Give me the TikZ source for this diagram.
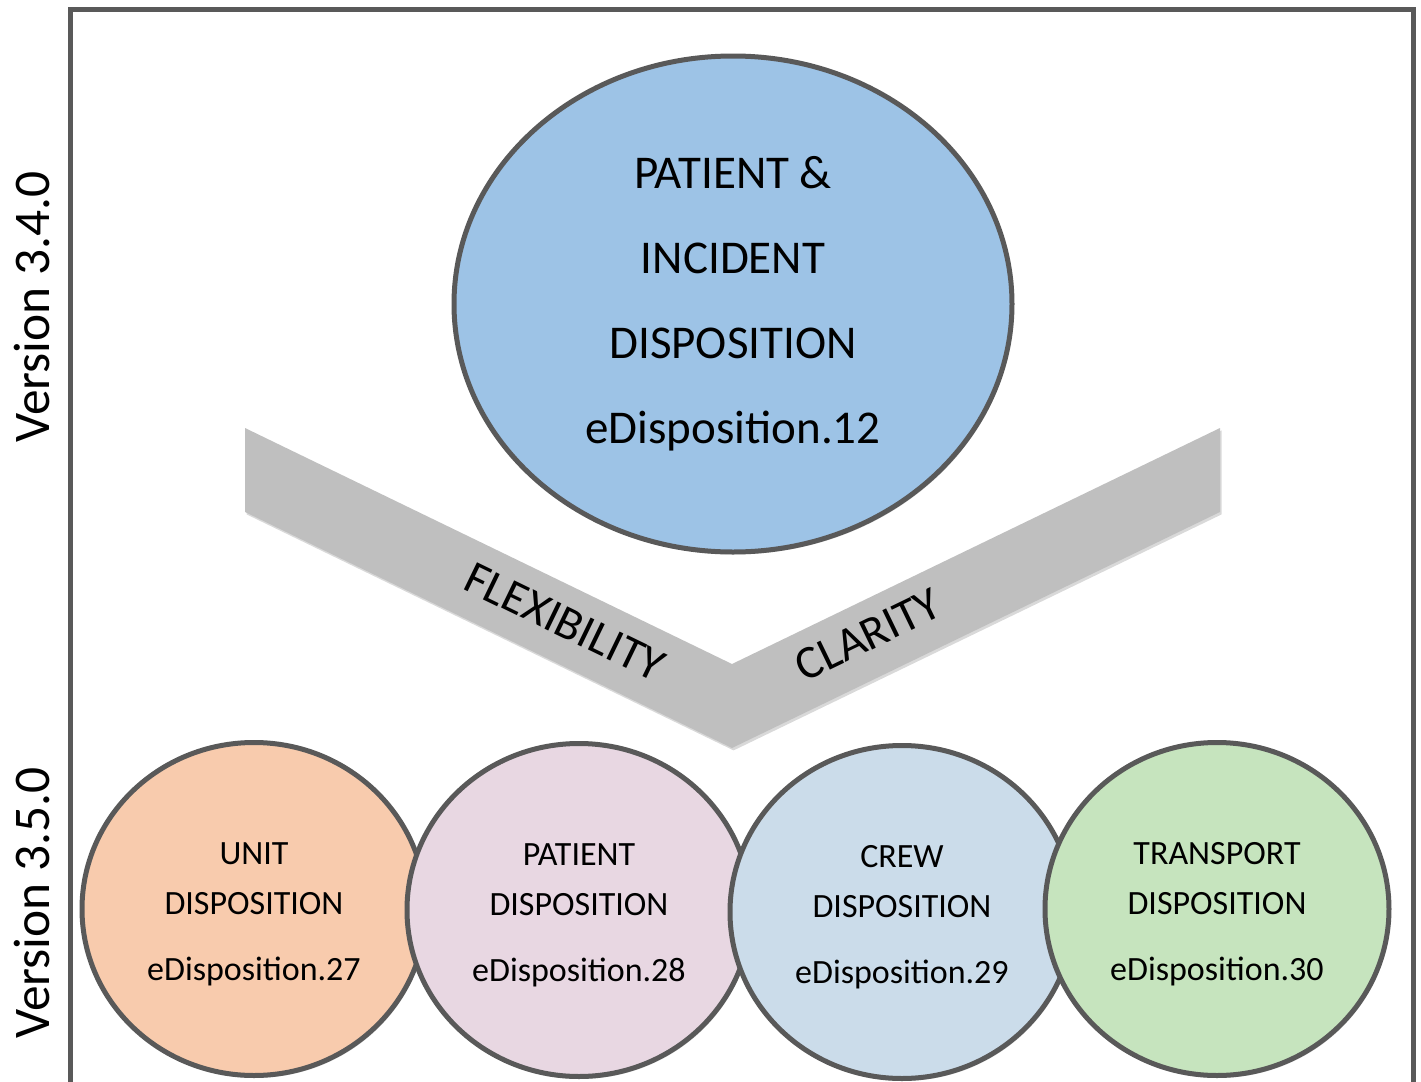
\documentclass[tikz,border=0pt]{standalone}
\usepackage{fontspec}
\setmainfont{Carlito}
\usepackage{tikz}
\usetikzlibrary{shapes.geometric,shadows}

\definecolor{frameGray}{HTML}{595959}
\definecolor{chevGray}{HTML}{BFBFBF}
\definecolor{incBlue}{HTML}{9DC3E6}
\definecolor{unitOrange}{HTML}{F8CBAD}
\definecolor{patPink}{HTML}{E8D7E2}
\definecolor{crewBlue}{HTML}{CBDCEA}
\definecolor{transGreen}{HTML}{C6E4BE}

\begin{document}
\begin{tikzpicture}[x=0.5pt,y=-0.5pt,
	shade/.style={drop shadow={opacity=0.3,shadow xshift=0.8pt,shadow yshift=-1.2pt}},
	disp/.style={ellipse,draw=frameGray,line width=2.5pt,inner sep=0pt,align=center,shade},
	dispsmall/.style={disp,minimum width=172pt,minimum height=166.5pt,font=\fontsize{17}{25}\selectfont},
	version/.style={rotate=90,font=\fontsize{25.7}{30}\selectfont}]
	\useasboundingbox (0,0) rectangle (1421,1082);
	
	%frame
	\draw[frameGray,line width=2.5pt] (70.5,1082) -- (70.5,9.5) -- (1413.5,9.5) -- (1413.5,1082);
	
	\node[version] (v340) at (32,307) {Version 3.4.0};
	\node[version] (v350) at (32,903) {Version 3.5.0};
	
	%chevron
	\coordinate (lt) at (245,428);
	\coordinate (mt) at (732,664);
	\coordinate (rt) at (1220,428);
	\coordinate (rb) at (1220,512);
	\coordinate (mb) at (732,748);
	\coordinate (lb) at (245,512);
	\fill[chevGray,shade] (lt) -- (mt) -- (rt) -- (rb) -- (mb) -- (lb) -- cycle;
	\node[rotate=-25.85,font=\fontsize{23.5}{28}\selectfont] (flex) at (565,622) {FLEXIBILITY};
	\node[rotate=25.85,font=\fontsize{23.5}{28}\selectfont] (clar) at (868,635) {CLARITY};
	
	%version 3.4.0
	\node[disp,fill=incBlue,minimum width=279pt,minimum height=248pt,font=\fontsize{23.5}{42.5}\selectfont] (incident) at (733,304)
		{PATIENT \&\\INCIDENT\\DISPOSITION\\eDisposition.12};
	
	%version 3.5.0
	\foreach \name/\xx/\yy/\col/\head/\num in {unit/254/909/unitOrange/UNIT/27,
		patient/579/910/patPink/PATIENT/28,
		crew/902/912/crewBlue/CREW/29,
		transport/1217/909/transGreen/TRANSPORT/30}{
		\node[dispsmall,fill=\col] (\name) at (\xx,\yy) {\rule{0pt}{16pt}\head\\DISPOSITION\\[8pt]eDisposition.\num};
	}
	
\end{tikzpicture}
\end{document}
